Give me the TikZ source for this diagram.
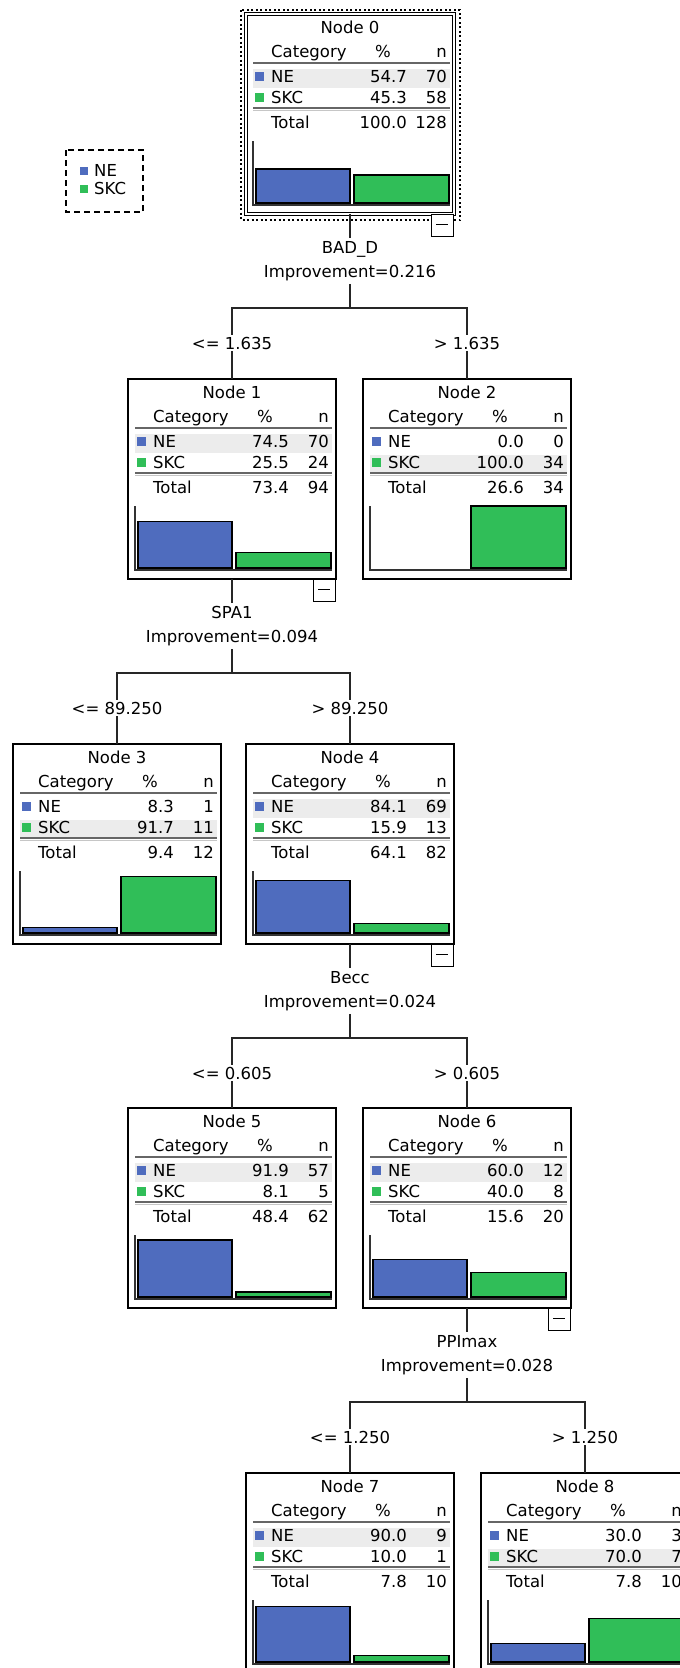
\documentclass[tikz,border=0pt]{standalone}
\usepackage{fontspec}
\setmainfont{DejaVu Sans}
\usepackage{tikz}

\definecolor{neblue}{RGB}{79,108,190}
\definecolor{skcgreen}{RGB}{48,190,88}
\definecolor{rowgray}{RGB}{236,236,236}

\newcommand{\treefont}{\fontsize{16.5}{19}\selectfont}

% one tree box: #1 node number, #2 top left corner,
% #3/#4 NE % and n, #5/#6 SKC % and n, #7/#8 Total % and n
\newcommand{\catbox}[8]{%
  \begin{scope}[shift={(#2)}]
    \ifdim #3pt>#5pt \def\shadey{64}\else\def\shadey{85}\fi
    \fill[rowgray] (7,\shadey-9.5) rectangle (204,\shadey+9.5);
    \node[cell] (t#1) at (104,15) {Node #1};
    \node[cell, anchor=west] (c#1) at (25,39) {Category};
    \node[cell] (p#1) at (137,39) {\%};
    \node[cell, anchor=east] (k#1) at (201,39) {n};
    \draw[ruleline] (7,49) -- (204,49);
    \fill[neblue] (9,58) rectangle (17.5,66.5);
    \node[cell, anchor=west] (ne#1) at (25,64) {NE};
    \node[cell, anchor=east] (nep#1) at (161,64) {#3};
    \node[cell, anchor=east] (nen#1) at (201,64) {#4};
    \fill[skcgreen] (9,79) rectangle (17.5,87.5);
    \node[cell, anchor=west] (skc#1) at (25,85) {SKC};
    \node[cell, anchor=east] (skcp#1) at (161,85) {#5};
    \node[cell, anchor=east] (skcn#1) at (201,85) {#6};
    \draw[ruleline] (7,94) -- (204,94);
    \draw[ruleline, gray!45] (7,96.5) -- (204,96.5);
    \node[cell, anchor=west] (tot#1) at (25,110) {Total};
    \node[cell, anchor=east] (totp#1) at (161,110) {#7};
    \node[cell, anchor=east] (totn#1) at (201,110) {#8};
    % bars
    \ifdim #3pt>0pt \draw[bar, fill=neblue] (10,189) rectangle (104,189-0.62*#3);\fi
    \ifdim #5pt>0pt \draw[bar, fill=skcgreen] (108,189) rectangle (203,189-0.62*#5);\fi
    \draw[axisline] (7,127) -- (7,191) -- (204,191);
    \node[boxframe] (n#1) at (104,100) {};
  \end{scope}}

\begin{document}
\begin{tikzpicture}[x=1pt, y=-1pt,
  cell/.style={inner sep=0pt, text height=12pt, text depth=3.5pt, font=\treefont},
  boxframe/.style={draw, line width=1.5pt, minimum width=208pt, minimum height=200pt, inner sep=0pt, outer sep=0pt},
  ruleline/.style={draw=black!60, line width=1.3pt},
  bar/.style={draw=black, line width=1.2pt},
  axisline/.style={draw=black!80, line width=1.3pt},
  link/.style={draw=black!85, line width=1.4pt},
  splitlabel/.style={align=center, inner sep=3pt, font=\fontsize{16.5}{24}\selectfont},
  cutlabel/.style={fill=white, inner sep=2pt, font=\treefont},
  minusbox/.style={draw, line width=1.2pt, fill=white, minimum size=22pt, inner sep=0pt, anchor=north east,
    path picture={\draw[line width=1.4pt] ([xshift=-6pt,yshift=1pt]path picture bounding box.center) -- ++(12pt,0);}}]

\useasboundingbox (0,0) rectangle (680,1668);
\clip (0,0) rectangle (680,1668);

% legend
\draw[line width=1.5pt, dash pattern=on 6pt off 4pt] (66,150) rectangle (143,212);
\fill[neblue] (80,167) rectangle (88,175);
\node[cell, anchor=west] (lgne) at (94,172) {NE};
\fill[skcgreen] (80,185) rectangle (88,193);
\node[cell, anchor=west] (lgskc) at (94,190) {SKC};

% -------- boxes -----------
\catbox{0}{246,14}{54.7}{70}{45.3}{58}{100.0}{128}
\catbox{1}{128,379}{74.5}{70}{25.5}{24}{73.4}{94}
\catbox{2}{363,379}{0.0}{0}{100.0}{34}{26.6}{34}
\catbox{3}{13,744}{8.3}{1}{91.7}{11}{9.4}{12}
\catbox{4}{246,744}{84.1}{69}{15.9}{13}{64.1}{82}
\catbox{5}{128,1108}{91.9}{57}{8.1}{5}{48.4}{62}
\catbox{6}{363,1108}{60.0}{12}{40.0}{8}{15.6}{20}
\catbox{7}{246,1473}{90.0}{9}{10.0}{1}{7.8}{10}
\catbox{8}{481,1473}{30.0}{3}{70.0}{7}{7.8}{10}

% selected root
\draw[line width=1.2pt, double, double distance=1.2pt] (n0.north west) rectangle (n0.south east);
\draw[line width=1.5pt, dash pattern=on 2pt off 2.5pt] ([shift={(-5pt,4pt)}]n0.north west) rectangle ([shift={(6pt,-6pt)}]n0.south east);

% -------- splits -----------
\node[splitlabel] (s0) at (350,261) {BAD\_D\\Improvement=0.216};
\coordinate (j0) at (350,308);
\node[cutlabel] (l1) at (232,343) {<= 1.635};
\node[cutlabel] (l2) at (467,343) {> 1.635};
\draw[link] (n0) -- (s0);
\draw[link] (s0) -- (j0);
\draw[link] (l1) |- (j0) -| (l2);
\draw[link] (l1) -- (n1);
\draw[link] (l2) -- (n2);

\node[splitlabel] (s1) at (232,626) {SPA1\\Improvement=0.094};
\coordinate (j1) at (232,673);
\node[cutlabel] (l3) at (117,708) {<= 89.250};
\node[cutlabel] (l4) at (350,708) {> 89.250};
\draw[link] (n1) -- (s1);
\draw[link] (s1) -- (j1);
\draw[link] (l3) |- (j1) -| (l4);
\draw[link] (l3) -- (n3);
\draw[link] (l4) -- (n4);

\node[splitlabel] (s4) at (350,991) {Becc\\Improvement=0.024};
\coordinate (j4) at (350,1038);
\node[cutlabel] (l5) at (232,1073) {<= 0.605};
\node[cutlabel] (l6) at (467,1073) {> 0.605};
\draw[link] (n4) -- (s4);
\draw[link] (s4) -- (j4);
\draw[link] (l5) |- (j4) -| (l6);
\draw[link] (l5) -- (n5);
\draw[link] (l6) -- (n6);

\node[splitlabel] (s6) at (467,1355) {PPImax\\Improvement=0.028};
\coordinate (j6) at (467,1402);
\node[cutlabel] (l7) at (350,1437) {<= 1.250};
\node[cutlabel] (l8) at (585,1437) {> 1.250};
\draw[link] (n6) -- (s6);
\draw[link] (s6) -- (j6);
\draw[link] (l7) |- (j6) -| (l8);
\draw[link] (l7) -- (n7);
\draw[link] (l8) -- (n8);

% collapse buttons
\node[minusbox] (m0) at (n0.south east) {};
\node[minusbox] (m1) at (n1.south east) {};
\node[minusbox] (m4) at (n4.south east) {};
\node[minusbox] (m6) at (n6.south east) {};

\end{tikzpicture}
\end{document}
